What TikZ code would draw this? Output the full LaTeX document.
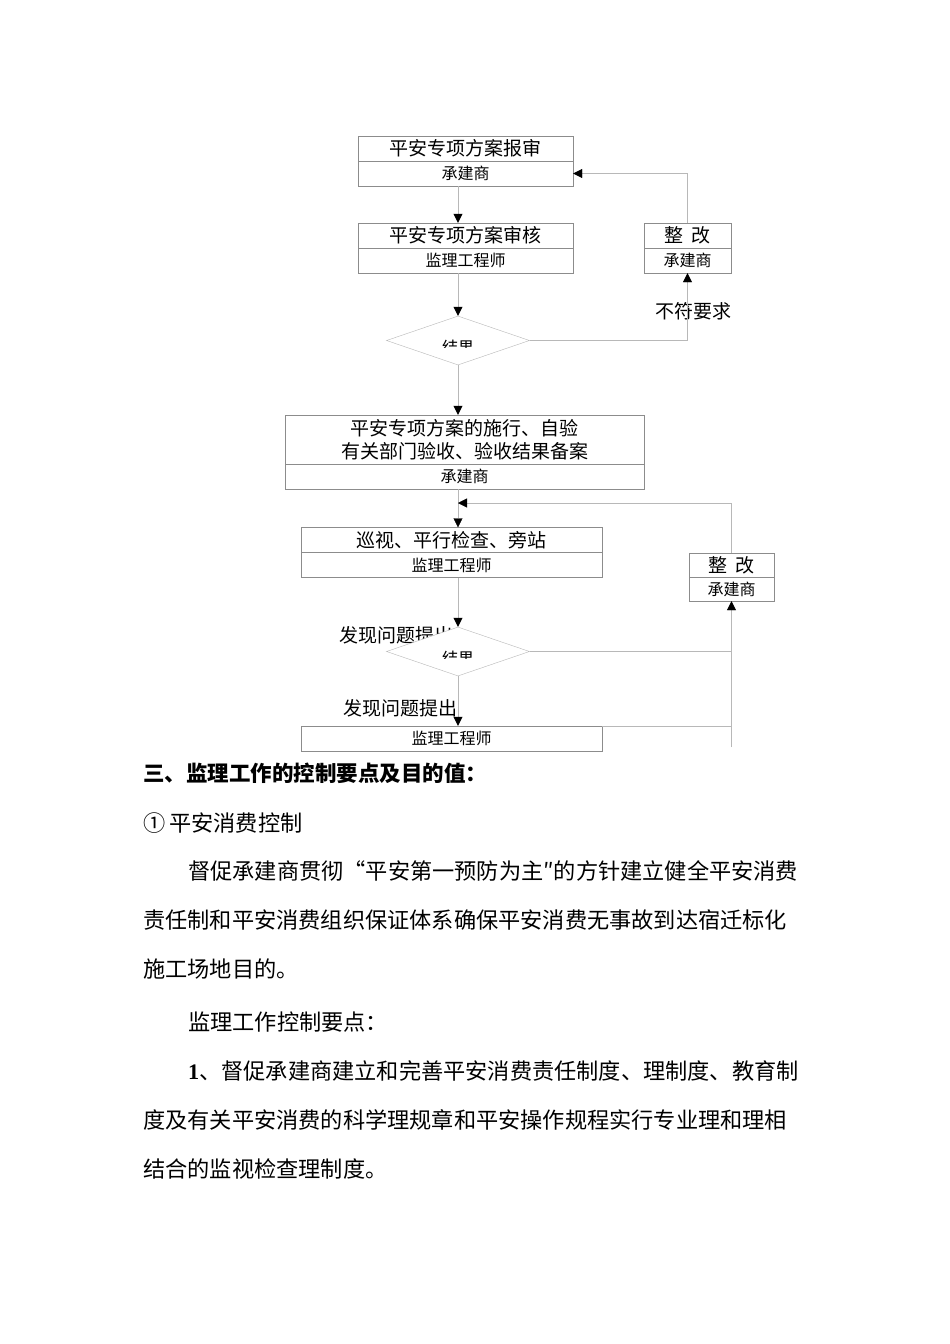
\documentclass[tikz,border=0pt]{standalone}
\usepackage{fontspec}
\setmainfont{Liberation Serif}
\newfontfamily\cjk{Noto Sans CJK SC}
\usetikzlibrary{shapes.geometric,arrows.meta}

\definecolor{edge}{rgb}{.55,.55,.55}
\definecolor{wire}{rgb}{.72,.72,.72}

\begin{document}
\begin{tikzpicture}[x=1pt, y=-1pt,
	box/.style={draw=edge, inner sep=0pt, minimum height=25pt, align=center, font=\cjk\fontsize{19}{23}\selectfont},
	role/.style={box, font=\cjk\fontsize{16}{18}\selectfont},
	choice/.style={diamond, draw=wire, fill=white, inner sep=0pt, aspect=2.9, minimum width=143pt, minimum height=49pt},
	arr/.style={draw=wire, -{Triangle[length=9pt, width=9pt, black]}},
	plain/.style={draw=wire},
	say/.style={inner sep=0pt, font=\cjk\fontsize{19}{21}\selectfont},
	para/.style={anchor=west, inner sep=0pt, font=\cjk\fontsize{22.2}{26}\selectfont}]
	\fill[white] (0,0) rectangle (950,1344);

	\coordinate (spine) at (458,0);
	\coordinate (merge) at (458,503);
	\coordinate (tail) at (731.5,747);

	\node[box, minimum width=215pt] (t1) at (465.5,148.5) {平安专项方案报审};
	\node[role, minimum width=215pt] (r1) at (465.5,173.5) {承建商};
	\node[box, minimum width=215pt] (t2) at (465.5,235.5) {平安专项方案审核};
	\node[role, minimum width=215pt] (r2) at (465.5,260.5) {监理工程师};
	\node[box, minimum width=87pt] (g1t) at (687.5,235.5) {整\hspace{8pt}改};
	\node[role, minimum width=87pt] (g1r) at (687.5,260.5) {承建商};
	\node[say] (nf) at (693,311) {不符要求};
	\node[choice] (d1) at (458,340.5) {};
	\begin{scope}
		\clip (400,330) rectangle (520,347);
		\node[inner sep=0pt, font=\cjk\fontsize{16}{18}\selectfont] at (458,347) {结果};
	\end{scope}

	\node[box, minimum width=359pt, minimum height=49pt] (t3) at (464.5,439.5) {平安专项方案的施行、自验\\有关部门验收、验收结果备案};
	\node[role, minimum width=359pt] (r3) at (464.5,476.5) {承建商};
	\node[box, minimum width=301pt] (t4) at (451.5,540) {巡视、平行检查、旁站};
	\node[role, minimum width=301pt] (r4) at (451.5,565) {监理工程师};
	\node[box, minimum width=85pt, minimum height=24pt] (g2t) at (731.5,565) {整\hspace{8pt}改};
	\node[role, minimum width=85pt, minimum height=24pt] (g2r) at (731.5,589) {承建商};
	\node[say] (fx1) at (396,635) {发现问题提出};
	\node[choice] (d2) at (458,651.5) {};
	\begin{scope}
		\clip (400,640) rectangle (520,658);
		\node[inner sep=0pt, font=\cjk\fontsize{16}{18}\selectfont] at (458,658) {结果};
	\end{scope}
	\node[say] (fx2) at (400,708) {发现问题提出};
	\node[role, minimum width=301pt] (r5) at (451.5,738.5) {监理工程师};

	\draw[arr] (r1.south -| spine) -- (t2.north -| spine);
	\draw[arr] (r2.south -| spine) -- (d1.north);
	\draw[arr] (d1.east) -| (g1r.south);
	\draw[arr] (g1t.north) |- (r1.east);
	\draw[arr] (d1.south) -- (t3.north -| spine);
	\draw[arr] (r3.south -| spine) -- (t4.north -| spine);
	\draw[arr] (g2t.north) |- (merge);
	\draw[arr] (r4.south -| spine) -- (d2.north);
	\draw[plain] (d2.east) -- (d2.east -| g2r.south);
	\draw[plain] (r5.north east) -- (r5.north east -| g2r.south);
	\draw[arr] (tail) -- (g2r.south);
	\draw[arr] (d2.south) -- (r5.north -| spine);

	\node[para, font=\cjk\bfseries\fontsize{21.5}{24}\selectfont] (h3) at (143,773) {三、监理工作的控制要点及目的值：};
	\node[para] (p1) at (143,823) {①\hspace{4pt}平安消费控制};
	\node[para] (p2) at (188,871) {督促承建商贯彻“平安第一预防为主″的方针建立健全平安消费};
	\node[para] (p3) at (143,920) {责任制和平安消费组织保证体系确保平安消费无事故到达宿迁标化};
	\node[para] (p4) at (143,969) {施工场地目的。};
	\node[para] (p5) at (188,1022) {监理工作控制要点：};
	\node[para] (p6) at (188,1071) {{\rmfamily\bfseries 1}、督促承建商建立和完善平安消费责任制度、理制度、教育制};
	\node[para] (p7) at (143,1120) {度及有关平安消费的科学理规章和平安操作规程实行专业理和理相};
	\node[para] (p8) at (143,1169) {结合的监视检查理制度。};
\end{tikzpicture}
\end{document}
